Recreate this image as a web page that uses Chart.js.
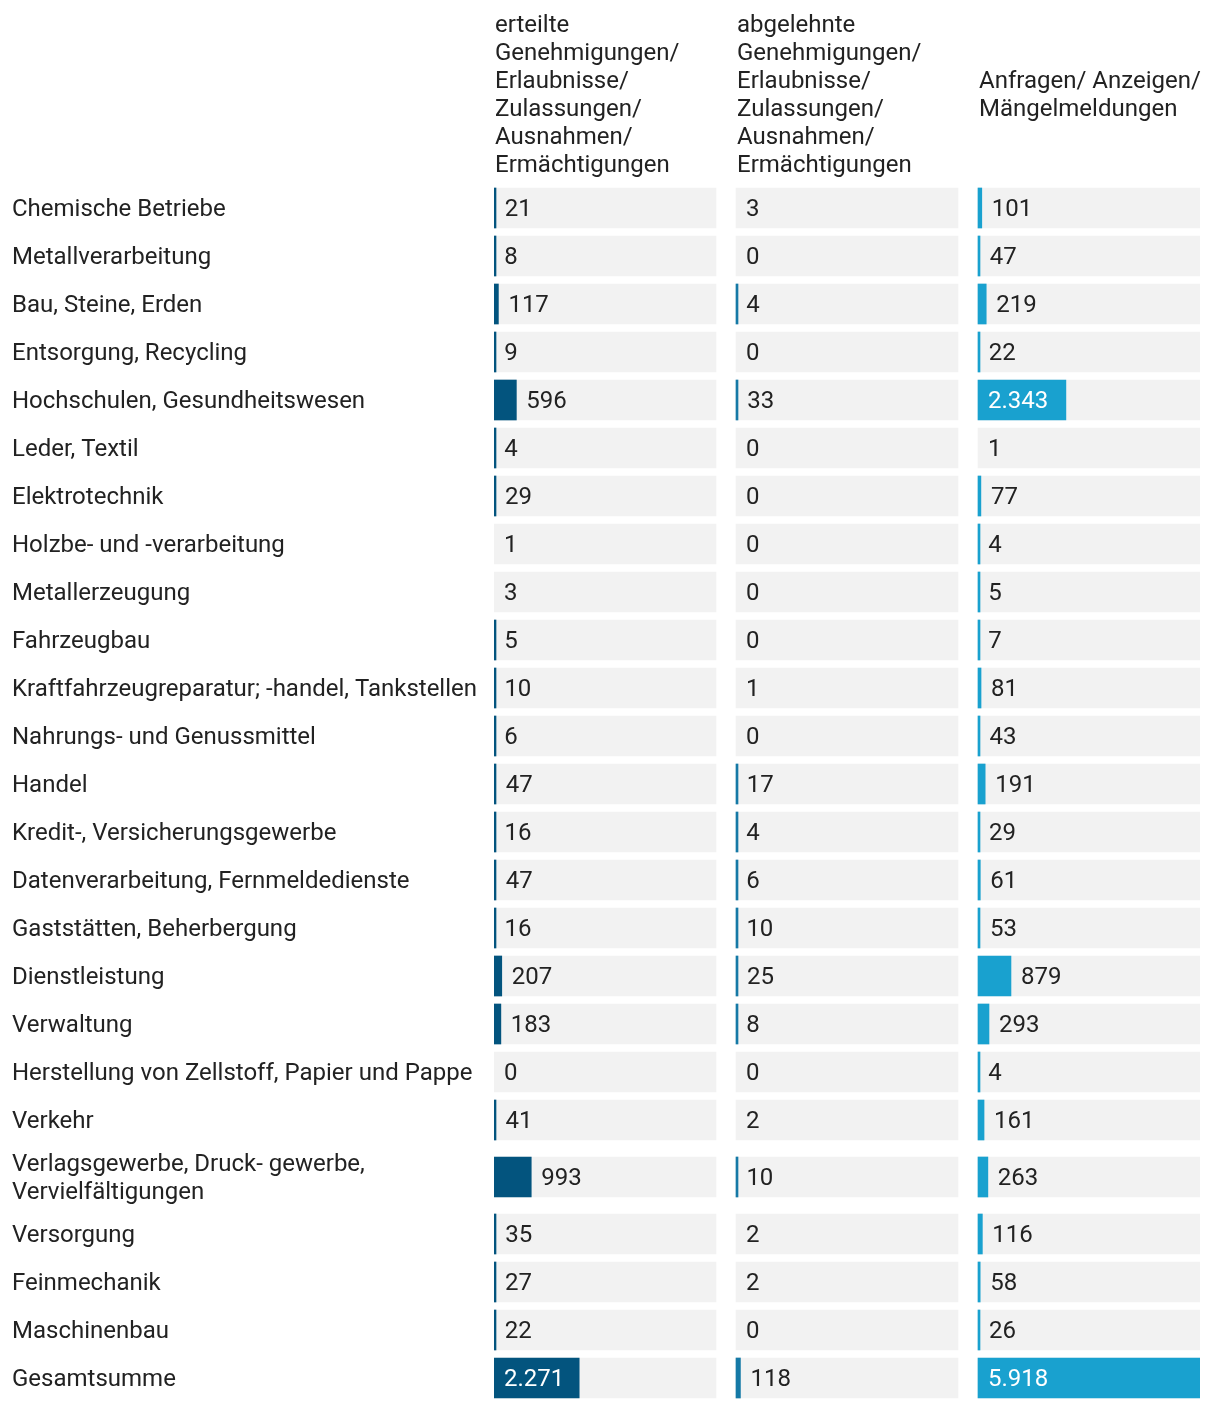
<!DOCTYPE html>
<html>
<head>
<meta charset="utf-8">
<script src="https://cdn.jsdelivr.net/npm/chart.js@4.4.1/dist/chart.umd.min.js"></script>
<style>
  html, body { margin: 0; background: #fff; }
  canvas { display: block; }
</style>
</head>
<body>
<canvas id="table-chart" width="1220" height="1408"></canvas>
<script>
const categories = [
  "Chemische Betriebe", "Metallverarbeitung", "Bau, Steine, Erden", "Entsorgung, Recycling",
  "Hochschulen, Gesundheitswesen", "Leder, Textil", "Elektrotechnik", "Holzbe- und -verarbeitung",
  "Metallerzeugung", "Fahrzeugbau", "Kraftfahrzeugreparatur; -handel, Tankstellen",
  "Nahrungs- und Genussmittel", "Handel", "Kredit-, Versicherungsgewerbe",
  "Datenverarbeitung, Fernmeldedienste", "Gaststätten, Beherbergung", "Dienstleistung",
  "Verwaltung", "Herstellung von Zellstoff, Papier und Pappe", "Verkehr",
  "Verlagsgewerbe, Druck- gewerbe, Vervielfältigungen", "Versorgung", "Feinmechanik",
  "Maschinenbau", "Gesamtsumme"
];
const granted  = [21, 8, 117, 9, 596, 4, 29, 1, 3, 5, 10, 6, 47, 16, 47, 16, 207, 183, 0, 41, 993, 35, 27, 22, 2271];
const rejected = [3, 0, 4, 0, 33, 0, 0, 0, 0, 0, 1, 0, 17, 4, 6, 10, 25, 8, 0, 2, 10, 2, 2, 0, 118];
const requests = [101, 47, 219, 22, 2343, 1, 77, 4, 5, 7, 81, 43, 191, 29, 61, 53, 879, 293, 4, 161, 263, 116, 58, 26, 5918];

const columnTitles = [
  ["erteilte", "Genehmigungen/", "Erlaubnisse/", "Zulassungen/", "Ausnahmen/", "Ermächtigungen"],
  ["abgelehnte", "Genehmigungen/", "Erlaubnisse/", "Zulassungen/", "Ausnahmen/", "Ermächtigungen"],
  ["Anfragen/ Anzeigen/", "Mängelmeldungen"]
];

const columns = [granted, rejected, requests];
const colors = ["#03547e", "#1579a6", "#19a1cf"];
const FONT = { family: "Roboto", size: 24, lineHeight: 28 / 24 };
const TEXT = "#222222";

// wrap row labels to the label column width
const measure = document.createElement("canvas").getContext("2d");
measure.font = FONT.size + "px " + FONT.family;
function wrap(text, maxW) {
  const words = text.split(" ");
  const lines = [];
  let cur = "";
  words.forEach(w => {
    const test = cur ? cur + " " + w : w;
    if (cur && measure.measureText(test).width > maxW) { lines.push(cur); cur = w; }
    else cur = test;
  });
  lines.push(cur);
  return lines;
}
const labelLines = categories.map(c => wrap(c, 478));

// row centres: single line rows 48px, wrapped rows taller
const rowH = labelLines.map(l => l.length > 1 ? 66 : 48);
const rowPos = [];
rowH.forEach((h, i) => rowPos.push(i === 0 ? 0 : rowPos[i - 1] + (rowH[i - 1] + h) / 2));

// shared value scale for all three columns, 20px gap between them
const colW = Math.max(...granted, ...rejected, ...requests);
const gap = colW * 20 / 222;
const span = 3 * colW + 2 * gap;
const step = colW + gap;

function fmt(v) {
  return String(v).replace(/\B(?=(\d{3})+(?!\d))/g, ".");
}

const valueSets = columns.map((vals, k) => ({
  label: "col" + k,
  xAxisID: "x" + k,
  data: vals.map((v, i) => ({ x: v >= 4 ? v : null, y: rowPos[i] })),
  backgroundColor: colors[k],
  minBarLength: 2,
  order: 0
}));
const bgSets = columns.map((vals, k) => ({
  label: "bg" + k,
  xAxisID: "x" + k,
  data: vals.map((v, i) => ({ x: colW, y: rowPos[i] })),
  backgroundColor: "#f2f2f2",
  order: 1
}));

const labelsPlugin = {
  id: "cellLabels",
  beforeDraw(chart) {
    // nudge row labels down a little to sit on the bar centre
    chart.scales.y.getLabelItems().forEach(it => { it.options.translation[1] += 2; });
  },
  afterDatasetsDraw(chart) {
    const ctx = chart.ctx;
    const yScale = chart.scales.y;
    ctx.save();
    ctx.font = FONT.size + "px " + FONT.family;
    ctx.textBaseline = "middle";
    ctx.textAlign = "left";
    columns.forEach((vals, k) => {
      const xs = chart.scales["x" + k];
      const left = xs.getPixelForValue(0);
      vals.forEach((v, i) => {
        const barPx = xs.getPixelForValue(v) - left;
        const txt = fmt(v);
        const w = ctx.measureText(txt).width;
        const y = yScale.getPixelForValue(rowPos[i]) + 2;
        if (barPx >= w + 20) {
          ctx.fillStyle = "#ffffff";
          ctx.fillText(txt, left + 10, y);
        } else {
          ctx.fillStyle = TEXT;
          ctx.fillText(txt, left + barPx + 10, y);
        }
      });
    });
    ctx.restore();
  }
};

const headerPlugin = {
  id: "columnHeaders",
  afterDraw(chart) {
    const ctx = chart.ctx;
    ctx.save();
    ctx.font = FONT.size + "px " + FONT.family;
    ctx.textBaseline = "middle";
    ctx.textAlign = "left";
    ctx.fillStyle = TEXT;
    const lh = FONT.size * FONT.lineHeight;
    columnTitles.forEach((lines, k) => {
      const x = chart.scales["x" + k].getPixelForValue(0) + 1;
      const y0 = 96 - (lines.length - 1) * lh / 2;
      lines.forEach((line, j) => ctx.fillText(line, x, y0 + j * lh));
    });
    ctx.restore();
  }
};

const xAxes = {};
[0, 1, 2].forEach(k => {
  xAxes["x" + k] = {
    type: "linear",
    display: false,
    min: -k * step,
    max: span - k * step
  };
});

new Chart(document.getElementById("table-chart"), {
  type: "bar",
  data: { datasets: [...valueSets, ...bgSets] },
  plugins: [labelsPlugin, headerPlugin],
  options: {
    responsive: false,
    animation: false,
    indexAxis: "y",
    layout: { padding: { top: 184, left: 12, right: 20, bottom: 6 } },
    datasets: { bar: { grouped: false, barThickness: 40, borderWidth: 0 } },
    plugins: { legend: { display: false }, tooltip: { enabled: false } },
    scales: {
      ...xAxes,
      y: {
        type: "linear",
        reverse: true,
        offset: false,
        bounds: "data",
        min: -rowH[0] / 2,
        max: rowPos[rowPos.length - 1] + rowH[rowH.length - 1] / 2,
        grid: { display: false, offset: false },
        border: { display: false },
        afterBuildTicks: s => { s.ticks = rowPos.map(v => ({ value: v })); },
        afterFit: s => { s.width = 482; s.paddingTop = 0; s.paddingBottom = 0; },
        ticks: {
          autoSkip: false,
          crossAlign: "far",
          padding: 0,
          color: TEXT,
          font: FONT,
          callback: (v, i) => labelLines[i].length > 1 ? labelLines[i] : labelLines[i][0]
        }
      }
    }
  }
});
</script>
</body>
</html>
